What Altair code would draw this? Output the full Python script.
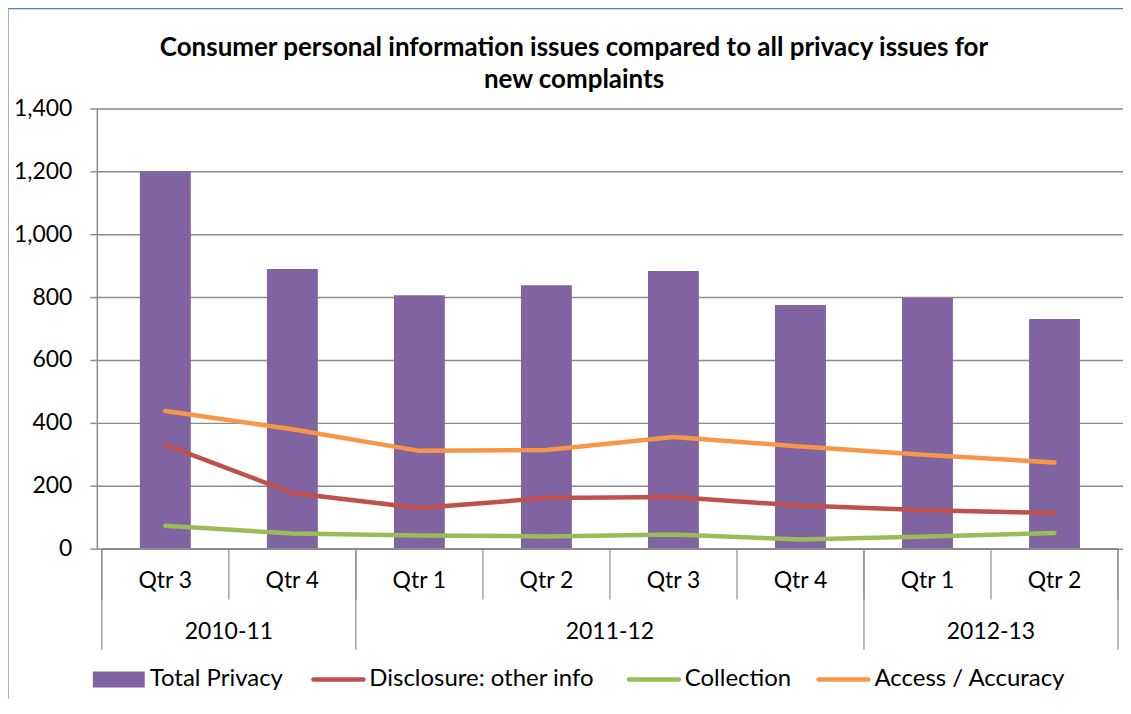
import altair as alt
import pandas as pd

# ---- data ----
quarters = ["Qtr 3", "Qtr 4", "Qtr 1", "Qtr 2", "Qtr 3", "Qtr 4", "Qtr 1", "Qtr 2"]
years = ["2010-11", "2011-12", "2012-13"]
year_counts = [2, 4, 2]

total_privacy = [1200, 889, 806, 838, 883, 775, 797, 730]
disclosure = [330, 177, 129, 161, 164, 137, 122, 113]
collection = [73, 48, 42, 39, 45, 29, 39, 50]
access_accuracy = [438, 380, 311, 314, 355, 325, 298, 274]

series_names = ["Total Privacy", "Disclosure: other info", "Collection", "Access / Accuracy"]
series_colors = ["#8064A2", "#C0504D", "#9BBB59", "#F79646"]
title_lines = ["Consumer personal information issues compared to all privacy issues for", "new complaints"]

FONT = "Lato"
FS = 23
W, H = 1028, 441
n = len(quarters)

# ---- tables ----
bars = pd.DataFrame({"pos": [i + 0.5 for i in range(n)], "quarter": quarters, "value": total_privacy})
lines = pd.DataFrame({
    "pos": [i + 0.5 for i in range(n)] * 3,
    "series": [series_names[1]] * n + [series_names[2]] * n + [series_names[3]] * n,
    "value": disclosure + collection + access_accuracy,
})
qlabels = pd.DataFrame({"pos": [i + 0.5 for i in range(n)], "label": quarters})
qdiv = pd.DataFrame({"pos": list(range(n + 1))})
bounds = [0]
for c in year_counts:
    bounds.append(bounds[-1] + c)
ydiv = pd.DataFrame({"pos": bounds})
ylabels = pd.DataFrame({
    "pos": [(bounds[i] + bounds[i + 1]) / 2 for i in range(len(years))],
    "label": years,
})

xscale = alt.Scale(domain=[0, n], nice=False, zero=False)
yscale = alt.Scale(domain=[0, 1400], nice=False)

bar_layer = alt.Chart(bars).mark_bar(size=51, color=series_colors[0]).encode(
    x=alt.X("pos:Q", scale=xscale, axis=None),
    y=alt.Y("value:Q", scale=yscale, axis=alt.Axis(
        values=list(range(0, 1401, 200)), format=",.0f", title=None,
        grid=True, gridColor="#8C8C8C", gridWidth=1.5,
        domain=True, domainColor="#8C8C8C", domainWidth=1.5,
        ticks=True, tickSize=7, tickColor="#8C8C8C", tickWidth=1.5,
        labelFont=FONT, labelFontSize=FS, labelColor="#000000", labelPadding=18,
    )),
)

line_layer = alt.Chart(lines).mark_line(strokeWidth=4.5, strokeCap="round").encode(
    x=alt.X("pos:Q", scale=xscale),
    y=alt.Y("value:Q", scale=yscale),
    color=alt.Color("series:N", scale=alt.Scale(domain=series_names[1:], range=series_colors[1:]), legend=None),
)

# bottom axis line
base_rule = alt.Chart(pd.DataFrame({"a": [0], "b": [n]})).mark_rule(color="#8C8C8C", strokeWidth=1.5).encode(
    x=alt.X("a:Q", scale=xscale), x2="b:Q", y=alt.value(H)
)
qdiv_layer = alt.Chart(qdiv).mark_rule(color="#8C8C8C", strokeWidth=1.2).encode(
    x=alt.X("pos:Q", scale=xscale), y=alt.value(H), y2=alt.value(H + 51)
)
ydiv_layer = alt.Chart(ydiv).mark_rule(color="#8C8C8C", strokeWidth=1.2).encode(
    x=alt.X("pos:Q", scale=xscale), y=alt.value(H), y2=alt.value(H + 101)
)
qtext = alt.Chart(qlabels).mark_text(font=FONT, fontSize=FS, color="#000000", baseline="middle").encode(
    x=alt.X("pos:Q", scale=xscale), y=alt.value(H + 32), text="label:N"
)
ytext = alt.Chart(ylabels).mark_text(font=FONT, fontSize=FS, color="#000000", baseline="middle").encode(
    x=alt.X("pos:Q", scale=xscale), y=alt.value(H + 84), text="label:N"
)

# ---- title ----
title_layers = []
for k, t in enumerate(title_lines):
    title_layers.append(
        alt.Chart(pd.DataFrame({"t": [t]})).mark_text(
            font=FONT, fontSize=26, fontWeight="bold", color="#000000", align="center", baseline="middle").encode(
            x=alt.value(478), y=alt.value(-61 + 33 * k), text="t:N"
        )
    )

# ---- manual legend ----
leg_y = 572
legend_layers = [
    alt.Chart(pd.DataFrame({"s": [series_names[0]]})).mark_rect(color=series_colors[0]).encode(
        x=alt.value(-4), x2=alt.value(48), y=alt.value(leg_y - 8), y2=alt.value(leg_y + 8)
    )
]
line_starts = [215, 531, 721]
for k, x0 in enumerate(line_starts):
    legend_layers.append(
        alt.Chart(pd.DataFrame({"s": [series_names[k + 1]]})).mark_rule(
            color=series_colors[k + 1], strokeWidth=4.5, strokeCap="round").encode(
            x=alt.value(x0 + 2), x2=alt.value(x0 + 52), y=alt.value(leg_y)
        )
    )
text_starts = [53, 273, 589, 779]
for k, x0 in enumerate(text_starts):
    legend_layers.append(
        alt.Chart(pd.DataFrame({"s": [series_names[k]]})).mark_text(
            font=FONT, fontSize=24, color="#000000", align="left", baseline="middle").encode(
            x=alt.value(x0), y=alt.value(leg_y), text="s:N"
        )
    )

# outer border (left and top edges visible)
border = alt.Chart(pd.DataFrame({"a": [0]})).mark_rule(stroke="#4F81BD", strokeWidth=1.2).encode(
    x=alt.value(-89), x2=alt.value(W), y=alt.value(-100)
)
border_left = alt.Chart(pd.DataFrame({"a": [0]})).mark_rule(stroke="#4F81BD", strokeWidth=1.2).encode(
    x=alt.value(-89), y=alt.value(-100), y2=alt.value(H + 200)
)

chart = alt.layer(
    border, border_left, bar_layer, line_layer, base_rule, qdiv_layer, ydiv_layer, qtext, ytext,
    *title_layers, *legend_layers
).properties(
    width=W, height=H,
    autosize=alt.AutoSizeParams(type="none"),
    padding={"left": 89, "top": 100, "right": 0, "bottom": 150},
).configure_view(stroke=None).configure(background="white")

chart.save("out.html", embed_options={"renderer": "svg", "actions": False})
